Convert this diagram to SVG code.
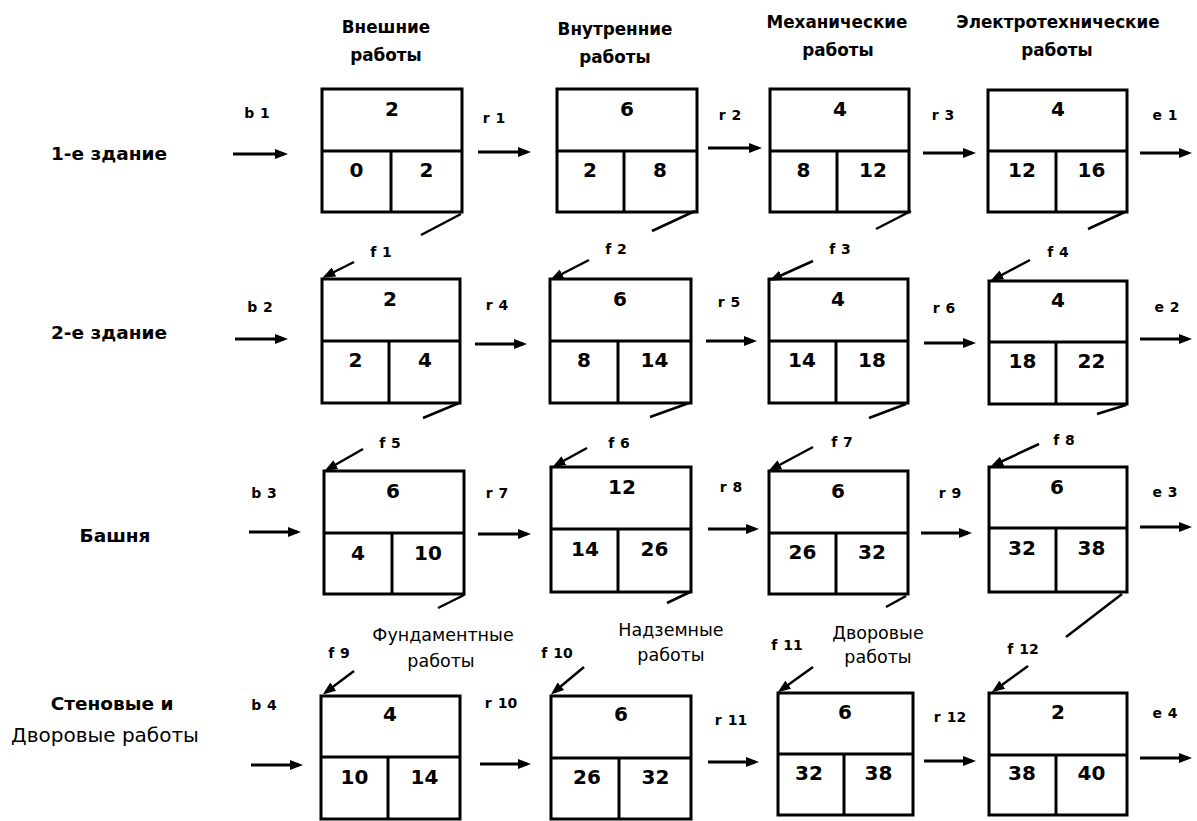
<svg xmlns="http://www.w3.org/2000/svg" width="1197" height="821" viewBox="0 0 1197 821">
<style>
.box rect{fill:#fff;stroke:#000;stroke-width:3}
.box line{stroke:#000;stroke-width:3}
.num{font-family:"DejaVu Sans",sans-serif;font-weight:bold;font-size:20px;text-anchor:middle;fill:#000}
.lbl{font-family:"DejaVu Sans",sans-serif;font-weight:bold;font-size:14px;text-anchor:middle;word-spacing:1px;fill:#000}
.row{font-family:"DejaVu Sans",sans-serif;font-weight:bold;font-size:18.5px;text-anchor:middle;fill:#000}
.rowr{font-family:"DejaVu Sans",sans-serif;font-size:20px;text-anchor:middle;fill:#000}
.hdr{font-family:"DejaVu Sans",sans-serif;font-weight:bold;font-size:16.8px;text-anchor:middle;fill:#000}
.hdr2{font-family:"DejaVu Sans",sans-serif;font-size:17.5px;text-anchor:middle;fill:#000}
.arr{stroke:#000;stroke-width:3;marker-end:url(#ah)}
.farr{stroke:#000;stroke-width:2.5;marker-end:url(#ah)}
.stub{stroke:#000;stroke-width:2.5}
</style>
<defs>
<marker id="ah" markerUnits="userSpaceOnUse" markerWidth="13" markerHeight="10" refX="9" refY="5" orient="auto">
<path d="M0,0 L13,5 L0,10 z" fill="#000"/>
</marker>
</defs>
<rect width="1197" height="821" fill="#fff"/>

<g id="headers">
<text class="hdr" x="386" y="33">Внешние</text>
<text class="hdr" x="386" y="61">работы</text>
<text class="hdr" x="615" y="35">Внутренние</text>
<text class="hdr" x="615" y="63">работы</text>
<text class="hdr" x="837" y="28">Механические</text>
<text class="hdr" x="838" y="56">работы</text>
<text class="hdr" x="1058" y="28">Электротехнические</text>
<text class="hdr" x="1057" y="56">работы</text>
<text class="hdr2" x="443" y="641">Фундаментные</text>
<text class="hdr2" x="441" y="667">работы</text>
<text class="hdr2" x="671" y="636">Надземные</text>
<text class="hdr2" x="671" y="661">работы</text>
<text class="hdr2" x="878" y="639">Дворовые</text>
<text class="hdr2" x="878" y="663">работы</text>
</g>

<g id="row-labels">
<text class="row" x="109" y="160">1-е здание</text>
<text class="row" x="109" y="339">2-е здание</text>
<text class="row" x="115" y="542">Башня</text>
<text class="row" x="112" y="710">Стеновые и</text>
<text class="rowr" x="105" y="742">Дворовые работы</text>
</g>

<!-- Row 1 -->
<g id="n1-1" class="box"><rect x="322" y="89" width="140" height="123"/><line x1="322" y1="151" x2="462" y2="151"/><line x1="391" y1="151" x2="391" y2="212"/>
<text class="num" x="392" y="116">2</text><text class="num" x="356.5" y="177">0</text><text class="num" x="426.5" y="177">2</text></g>
<g id="n1-2" class="box"><rect x="557" y="89" width="140" height="123"/><line x1="557" y1="151" x2="697" y2="151"/><line x1="624" y1="151" x2="624" y2="212"/>
<text class="num" x="627" y="116">6</text><text class="num" x="590" y="177">2</text><text class="num" x="660" y="177">8</text></g>
<g id="n1-3" class="box"><rect x="770" y="89" width="139" height="123"/><line x1="770" y1="151" x2="909" y2="151"/><line x1="837" y1="151" x2="837" y2="212"/>
<text class="num" x="840" y="116">4</text><text class="num" x="803.5" y="177">8</text><text class="num" x="873" y="177">12</text></g>
<g id="n1-4" class="box"><rect x="988" y="90" width="139" height="122"/><line x1="988" y1="151" x2="1127" y2="151"/><line x1="1056" y1="151" x2="1056" y2="212"/>
<text class="num" x="1058" y="116">4</text><text class="num" x="1022" y="177">12</text><text class="num" x="1091.5" y="177">16</text></g>

<!-- Row 2 -->
<g id="n2-1" class="box"><rect x="322" y="279" width="138" height="124"/><line x1="322" y1="341" x2="460" y2="341"/><line x1="389" y1="341" x2="389" y2="403"/>
<text class="num" x="390" y="306">2</text><text class="num" x="355.5" y="367">2</text><text class="num" x="425" y="367">4</text></g>
<g id="n2-2" class="box"><rect x="550" y="279" width="141" height="124"/><line x1="550" y1="341" x2="691" y2="341"/><line x1="618" y1="341" x2="618" y2="403"/>
<text class="num" x="620" y="306">6</text><text class="num" x="584" y="367">8</text><text class="num" x="654.5" y="367">14</text></g>
<g id="n2-3" class="box"><rect x="769" y="279" width="139" height="124"/><line x1="769" y1="341" x2="908" y2="341"/><line x1="836" y1="341" x2="836" y2="403"/>
<text class="num" x="838" y="306">4</text><text class="num" x="802" y="367">14</text><text class="num" x="872" y="367">18</text></g>
<g id="n2-4" class="box"><rect x="989" y="281" width="138" height="123"/><line x1="989" y1="342" x2="1127" y2="342"/><line x1="1056" y1="342" x2="1056" y2="404"/>
<text class="num" x="1058" y="307">4</text><text class="num" x="1022.5" y="368">18</text><text class="num" x="1091.5" y="368">22</text></g>

<!-- Row 3 -->
<g id="n3-1" class="box"><rect x="324" y="471" width="140" height="123"/><line x1="324" y1="533" x2="464" y2="533"/><line x1="392" y1="533" x2="392" y2="594"/>
<text class="num" x="393" y="498">6</text><text class="num" x="358" y="560">4</text><text class="num" x="428" y="560">10</text></g>
<g id="n3-2" class="box"><rect x="551" y="467" width="140" height="125"/><line x1="551" y1="529" x2="691" y2="529"/><line x1="618" y1="529" x2="618" y2="592"/>
<text class="num" x="622" y="494">12</text><text class="num" x="585" y="556">14</text><text class="num" x="654.5" y="556">26</text></g>
<g id="n3-3" class="box"><rect x="769" y="471" width="139" height="123"/><line x1="769" y1="533" x2="908" y2="533"/><line x1="836" y1="533" x2="836" y2="594"/>
<text class="num" x="838" y="498">6</text><text class="num" x="802.5" y="559">26</text><text class="num" x="872" y="559">32</text></g>
<g id="n3-4" class="box"><rect x="989" y="467" width="138" height="125"/><line x1="989" y1="528" x2="1127" y2="528"/><line x1="1056" y1="528" x2="1056" y2="592"/>
<text class="num" x="1057" y="494">6</text><text class="num" x="1022" y="555">32</text><text class="num" x="1091.5" y="555">38</text></g>

<!-- Row 4 -->
<g id="n4-1" class="box"><rect x="321" y="696" width="139" height="123"/><line x1="321" y1="757" x2="460" y2="757"/><line x1="388" y1="757" x2="388" y2="819"/>
<text class="num" x="390" y="721">4</text><text class="num" x="354.5" y="784">10</text><text class="num" x="424.5" y="784">14</text></g>
<g id="n4-2" class="box"><rect x="551" y="696" width="140" height="123"/><line x1="551" y1="758" x2="691" y2="758"/><line x1="619" y1="758" x2="619" y2="819"/>
<text class="num" x="621" y="721">6</text><text class="num" x="587" y="784">26</text><text class="num" x="655.5" y="784">32</text></g>
<g id="n4-3" class="box"><rect x="778" y="693" width="135" height="122"/><line x1="778" y1="754" x2="913" y2="754"/><line x1="844" y1="754" x2="844" y2="815"/>
<text class="num" x="845" y="719">6</text><text class="num" x="809" y="780">32</text><text class="num" x="878.5" y="780">38</text></g>
<g id="n4-4" class="box"><rect x="989" y="693" width="138" height="122"/><line x1="989" y1="755" x2="1127" y2="755"/><line x1="1056" y1="755" x2="1056" y2="815"/>
<text class="num" x="1058" y="719">2</text><text class="num" x="1022" y="780">38</text><text class="num" x="1091.5" y="780">40</text></g>

<g id="connectors">
<!-- row 1 horizontal -->
<line class="arr" x1="233" y1="154" x2="284" y2="154"/>
<line class="arr" x1="478" y1="152" x2="527" y2="152"/>
<line class="arr" x1="708" y1="148" x2="758" y2="148"/>
<line class="arr" x1="923" y1="153" x2="972" y2="153"/>
<line class="arr" x1="1140" y1="153" x2="1188" y2="153"/>
<!-- row 2 horizontal -->
<line class="arr" x1="235" y1="339" x2="284" y2="339"/>
<line class="arr" x1="475" y1="344" x2="523" y2="344"/>
<line class="arr" x1="706" y1="341" x2="753" y2="341"/>
<line class="arr" x1="924" y1="343" x2="972" y2="343"/>
<line class="arr" x1="1140" y1="339" x2="1188" y2="339"/>
<!-- row 3 horizontal -->
<line class="arr" x1="249" y1="532" x2="297" y2="532"/>
<line class="arr" x1="478" y1="534" x2="527" y2="534"/>
<line class="arr" x1="708" y1="529" x2="755" y2="529"/>
<line class="arr" x1="921" y1="533" x2="968" y2="533"/>
<line class="arr" x1="1140" y1="527" x2="1188" y2="527"/>
<!-- row 4 horizontal -->
<line class="arr" x1="251" y1="765" x2="299" y2="765"/>
<line class="arr" x1="480" y1="764" x2="527" y2="764"/>
<line class="arr" x1="708" y1="762" x2="755" y2="762"/>
<line class="arr" x1="924" y1="761" x2="972" y2="761"/>
<line class="arr" x1="1140" y1="758" x2="1188" y2="758"/>
<!-- stubs leaving bottom-right corners -->
<line class="stub" x1="461" y1="214" x2="421" y2="235"/>
<line class="stub" x1="695" y1="211" x2="652" y2="231"/>
<line class="stub" x1="911" y1="211" x2="876" y2="229"/>
<line class="stub" x1="1125" y1="212" x2="1088" y2="229"/>
<line class="stub" x1="459" y1="403" x2="423" y2="418"/>
<line class="stub" x1="689" y1="403" x2="650" y2="417"/>
<line class="stub" x1="906" y1="404" x2="869" y2="418"/>
<line class="stub" x1="1126" y1="405" x2="1097" y2="414"/>
<line class="stub" x1="464" y1="595" x2="438" y2="608"/>
<line class="stub" x1="690" y1="592" x2="667" y2="603"/>
<line class="stub" x1="906" y1="596" x2="886" y2="607"/>
<line class="stub" x1="1122" y1="594" x2="1066" y2="637"/>
<!-- f arrows into top-left corners -->
<line class="farr" x1="354" y1="262" x2="326" y2="276"/>
<line class="farr" x1="589" y1="260" x2="554" y2="278"/>
<line class="farr" x1="813" y1="261" x2="773" y2="279"/>
<line class="farr" x1="1030" y1="260" x2="994" y2="279"/>
<line class="farr" x1="363" y1="449" x2="328" y2="469"/>
<line class="farr" x1="587" y1="448" x2="556" y2="465"/>
<line class="farr" x1="813" y1="447" x2="772" y2="469"/>
<line class="farr" x1="1039" y1="444" x2="994" y2="465"/>
<line class="farr" x1="354" y1="671" x2="326" y2="692"/>
<line class="farr" x1="584" y1="667" x2="554" y2="692"/>
<line class="farr" x1="813" y1="667" x2="781" y2="690"/>
<line class="farr" x1="1028" y1="666" x2="995" y2="690"/>
</g>

<g id="connector-labels">
<text class="lbl" x="257" y="118">b 1</text>
<text class="lbl" x="494" y="123">r 1</text>
<text class="lbl" x="730" y="120">r 2</text>
<text class="lbl" x="943" y="120">r 3</text>
<text class="lbl" x="1165" y="120">e 1</text>
<text class="lbl" x="260" y="312">b 2</text>
<text class="lbl" x="497" y="310">r 4</text>
<text class="lbl" x="729" y="307">r 5</text>
<text class="lbl" x="944" y="313">r 6</text>
<text class="lbl" x="1167" y="312">e 2</text>
<text class="lbl" x="381" y="257">f 1</text>
<text class="lbl" x="616" y="254">f 2</text>
<text class="lbl" x="840" y="254">f 3</text>
<text class="lbl" x="1058" y="257">f 4</text>
<text class="lbl" x="264" y="498">b 3</text>
<text class="lbl" x="497" y="498">r 7</text>
<text class="lbl" x="731" y="492">r 8</text>
<text class="lbl" x="950" y="498">r 9</text>
<text class="lbl" x="1165" y="497">e 3</text>
<text class="lbl" x="390" y="448">f 5</text>
<text class="lbl" x="619" y="448">f 6</text>
<text class="lbl" x="842" y="447">f 7</text>
<text class="lbl" x="1064" y="445">f 8</text>
<text class="lbl" x="264" y="710">b 4</text>
<text class="lbl" x="501" y="708">r 10</text>
<text class="lbl" x="731" y="725">r 11</text>
<text class="lbl" x="950" y="722">r 12</text>
<text class="lbl" x="1165" y="718">e 4</text>
<text class="lbl" x="339" y="658">f 9</text>
<text class="lbl" x="557" y="658">f 10</text>
<text class="lbl" x="787" y="650">f 11</text>
<text class="lbl" x="1023" y="654">f 12</text>
</g>
</svg>
